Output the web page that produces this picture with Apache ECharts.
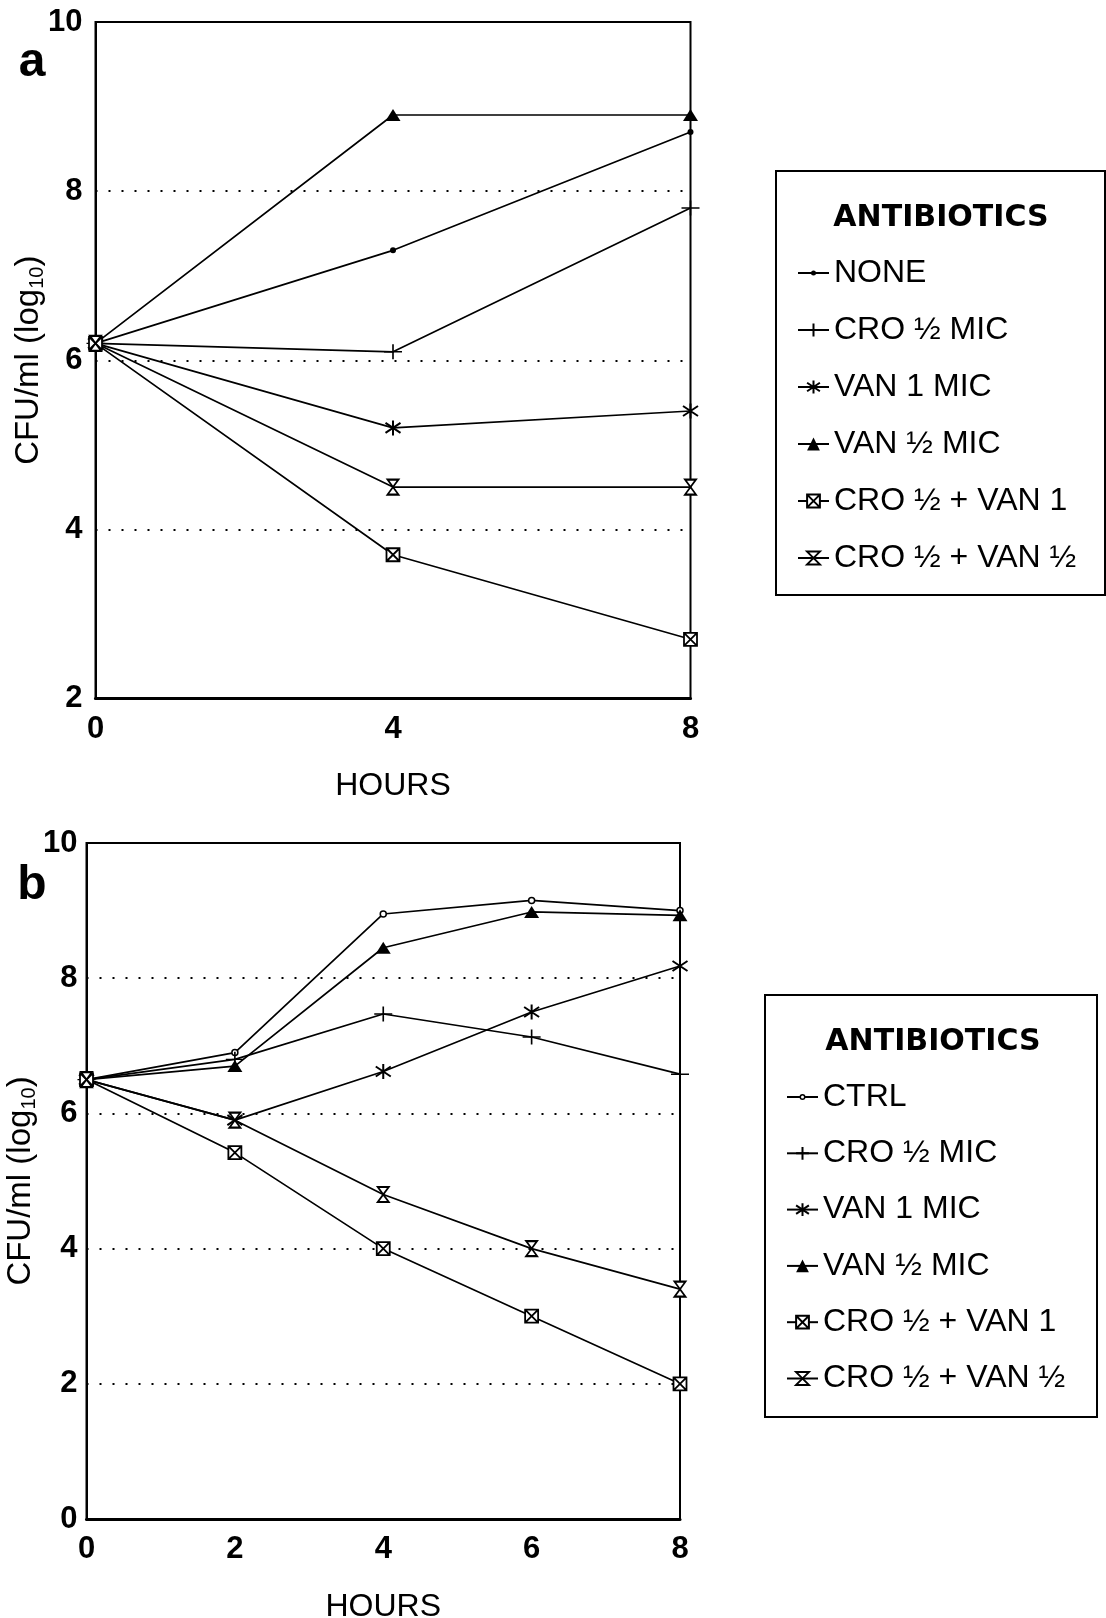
<!DOCTYPE html>
<html>
<head>
<meta charset="utf-8">
<script src="https://cdn.jsdelivr.net/npm/echarts@6/dist/echarts.min.js"></script>
<style>
  html, body { margin: 0; padding: 0; background: #fff; }
  #chart { width: 1106px; height: 1618px; }
</style>
</head>
<body>
<div id="chart"></div>
<script>
// ---- Data: panel a ----
const hoursA = [0, 4, 8];
const aNone = [6.2, 7.3, 8.7];
const aCroHalf = [6.2, 6.1, 7.8];
const aVan1 = [6.2, 5.2, 5.4];
const aVanHalf = [6.2, 8.9, 8.9];
const aCroVan1 = [6.2, 3.7, 2.7];
const aCroVanHalf = [6.2, 4.5, 4.5];

// ---- Data: panel b ----
const hoursB = [0, 2, 4, 6, 8];
const bCtrl = [6.5, 6.9, 8.95, 9.15, 9.0];
const bCroHalf = [6.5, 6.8, 7.47, 7.13, 6.58];
const bVan1 = [6.5, 5.9, 6.62, 7.5, 8.18];
const bVanHalf = [6.5, 6.7, 8.45, 8.98, 8.93];
const bCroVan1 = [6.5, 5.42, 4.0, 3.0, 2.0];
const bCroVanHalf = [6.5, 5.9, 4.8, 4.0, 3.4];

// ---- Labels ----
const namesA = ['NONE', 'CRO ½ MIC', 'VAN 1 MIC', 'VAN ½ MIC', 'CRO ½ + VAN 1', 'CRO ½ + VAN ½'];
const namesB = ['CTRL', 'CRO ½ MIC', 'VAN 1 MIC', 'VAN ½ MIC', 'CRO ½ + VAN 1', 'CRO ½ + VAN ½'];
const legendTitle = 'ANTIBIOTICS';
const xName = 'HOURS';
const panelLabels = ['a', 'b'];

const F = "'Liberation Sans', Arial, Helvetica, sans-serif";

const SYM = {
  plus: 'path://M12,0V24M0,12H24',
  star: 'path://M12,0V24M1.6,4L22.4,20M1.6,20L22.4,4',
  boxx: 'path://M0,0H24V24H0Z M0,0L24,24 M24,0L0,24',
  glass: 'path://M0,0H24L0,24H24Z'
};
// legend icons for the small-dot series (line + small dot / small ring)
const ICON_DOT = 'path://M0,7.1H31V8.9H0Z M13,8A2.5,2.5 0 1 1 18,8A2.5,2.5 0 1 1 13,8Z';
const ICON_RING = 'path://M0,7.1H12.6V8.9H0Z M18.4,7.1H31V8.9H18.4Z M12.5,8A3,3 0 1 1 18.5,8A3,3 0 1 1 12.5,8Z M14,8A1.5,1.5 0 1 0 17,8A1.5,1.5 0 1 0 14,8Z';

function mk(name, xs, ys, idx, kind) {
  const s = {
    name: name,
    type: 'line',
    xAxisIndex: idx,
    yAxisIndex: idx,
    data: xs.map((x, i) => [x, ys[i]]),
    showSymbol: true,
    lineStyle: { color: '#000', width: 1.7 },
    itemStyle: { color: '#000', borderColor: '#000', borderWidth: 1.5 },
    emphasis: { disabled: true },
    z: 3
  };
  if (kind === 'dot') { s.symbol = 'circle'; s.symbolSize = 6; s.itemStyle.borderWidth = 0; }
  if (kind === 'odot') { s.symbol = 'circle'; s.symbolSize = 6; s.itemStyle.color = '#fff'; s.itemStyle.borderWidth = 1.5; }
  if (kind === 'plus') { s.symbol = SYM.plus; s.symbolSize = [18, 15]; s.itemStyle.color = 'none'; s.itemStyle.borderWidth = 1.5; }
  if (kind === 'star') { s.symbol = SYM.star; s.symbolSize = 15; s.itemStyle.color = 'none'; s.itemStyle.borderWidth = 2; }
  if (kind === 'tri') { s.symbol = 'triangle'; s.symbolSize = [15, 12]; s.itemStyle.borderWidth = 0; }
  if (kind === 'boxx') { s.symbol = SYM.boxx; s.symbolSize = 13; s.itemStyle.color = '#fff'; s.itemStyle.borderWidth = 1.8; }
  if (kind === 'glass') { s.symbol = SYM.glass; s.symbolSize = [11, 15]; s.itemStyle.color = '#fff'; s.itemStyle.borderWidth = 1.8; }
  return s;
}

const kinds = ['dot', 'plus', 'star', 'tri', 'boxx', 'glass'];
const kindsB = ['odot', 'plus', 'star', 'tri', 'boxx', 'glass'];
const seriesA = [aNone, aCroHalf, aVan1, aVanHalf, aCroVan1, aCroVanHalf];
const seriesB = [bCtrl, bCroHalf, bVan1, bVanHalf, bCroVan1, bCroVanHalf];

const series = [];
seriesA.forEach((v, i) => series.push(mk(namesA[i], hoursA, v, 0, kinds[i])));
seriesB.forEach((v, i) => series.push(mk(namesB[i], hoursB, v, 1, kindsB[i])));

function xAxis(idx, interval) {
  return {
    gridIndex: idx, type: 'value', min: 0, max: 8, interval: interval,
    axisLine: { show: true, onZero: false, lineStyle: { color: '#000', width: 3 } },
    axisTick: { show: false },
    splitLine: { show: false },
    axisLabel: { color: '#000', fontFamily: F, fontWeight: 'bold', fontSize: 31, margin: 15 },
    name: xName, nameLocation: 'middle', nameGap: 72,
    nameTextStyle: { color: '#000', fontFamily: F, fontSize: 32 }
  };
}
function yAxis(idx, min, margin, gap) {
  return {
    gridIndex: idx, type: 'value', min: min, max: 10, interval: 2,
    axisLine: { show: true, lineStyle: { color: '#000', width: 2 } },
    axisTick: { show: false },
    splitLine: { show: true, lineStyle: { color: '#000', width: 2, type: [2, 11] } },
    axisLabel: { color: '#000', fontFamily: F, fontWeight: 'bold', fontSize: 31, margin: margin },
    name: '{m|CFU/ml (log}{s|10}{m|)}', nameLocation: 'middle', nameRotate: 90, nameGap: gap,
    nameMoveOverlap: false,
    nameTextStyle: {
      color: '#000', fontFamily: F, fontSize: 33,
      rich: {
        m: { fontFamily: F, fontSize: 33, lineHeight: 38, color: '#000' },
        s: { fontFamily: F, fontSize: 20, lineHeight: 20, verticalAlign: 'bottom', color: '#000' }
      }
    }
  };
}

const legendText = { color: '#000', fontFamily: F, fontSize: 32, lineHeight: 36 };
function legendData(names, firstIcon) {
  return names.map((n, i) => i === 0
    ? { name: n, icon: firstIcon, itemStyle: { color: '#000', borderWidth: 0 } }
    : { name: n });
}

const option = {
  animation: false,
  backgroundColor: '#fff',
  grid: [
    { left: 95.5, top: 22, width: 595, height: 676.5, show: true, borderColor: '#000', borderWidth: 2,
      containLabel: false, outerBoundsMode: 'none' },
    { left: 86.5, top: 843, width: 593.5, height: 676, show: true, borderColor: '#000', borderWidth: 2,
      containLabel: false, outerBoundsMode: 'none' }
  ],
  xAxis: [xAxis(0, 4), xAxis(1, 2)],
  yAxis: [yAxis(0, 2, 13, 48), yAxis(1, 0, 9, 47)],
  legend: [
    { data: legendData(namesA, ICON_DOT), orient: 'vertical', left: 797, top: 255, itemWidth: 31, itemHeight: 16, itemGap: 21,
      padding: 0, selectedMode: false, symbolKeepAspect: true, textStyle: legendText },
    { data: legendData(namesB, ICON_RING), orient: 'vertical', left: 786, top: 1079, itemWidth: 31, itemHeight: 16, itemGap: 20.3,
      padding: 0, selectedMode: false, symbolKeepAspect: true, textStyle: legendText }
  ],
  graphic: [
    { type: 'rect', shape: { x: 776, y: 171, width: 329, height: 424 }, style: { fill: 'none', stroke: '#000', lineWidth: 2 } },
    { type: 'rect', shape: { x: 765, y: 995, width: 332, height: 422 }, style: { fill: 'none', stroke: '#000', lineWidth: 2 } },
    { type: 'text', x: 941, y: 218, style: { text: legendTitle, fontFamily: "'DejaVu Sans', sans-serif", fontWeight: 'bold', fontSize: 30, fill: '#000', align: 'center', verticalAlign: 'middle' } },
    { type: 'text', x: 933, y: 1042, style: { text: legendTitle, fontFamily: "'DejaVu Sans', sans-serif", fontWeight: 'bold', fontSize: 30, fill: '#000', align: 'center', verticalAlign: 'middle' } },
    { type: 'text', x: 32, y: 63, style: { text: panelLabels[0], fontFamily: F, fontWeight: 'bold', fontSize: 48, fill: '#000', align: 'center', verticalAlign: 'middle' } },
    { type: 'text', x: 32, y: 886, style: { text: panelLabels[1], fontFamily: F, fontWeight: 'bold', fontSize: 48, fill: '#000', align: 'center', verticalAlign: 'middle' } }
  ],
  series: series
};

const chart = echarts.init(document.getElementById('chart'), null, { renderer: 'canvas' });
chart.setOption(option);
</script>
</body>
</html>
